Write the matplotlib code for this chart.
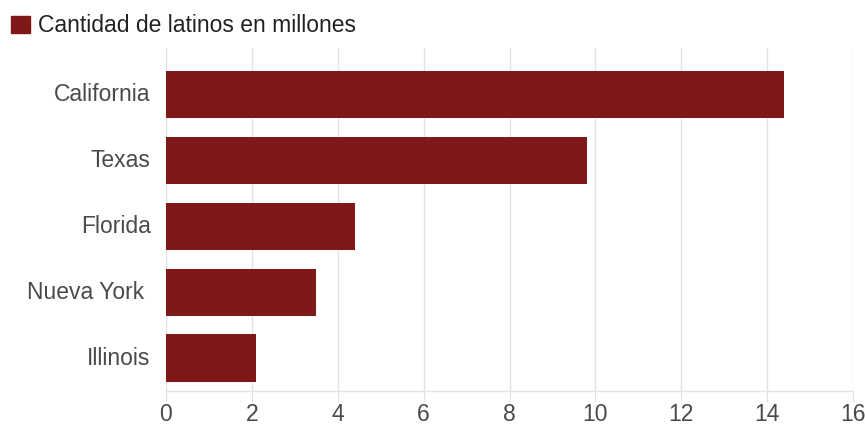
import matplotlib.pyplot as plt
from matplotlib.patches import Patch

plt.rcParams['font.family'] = ['Liberation Sans', 'DejaVu Sans']

estados = ['California', 'Texas', 'Florida', 'Nueva York ', 'Illinois']
latinos = [14.4, 9.8, 4.4, 3.5, 2.1]
xticks = [0, 2, 4, 6, 8, 10, 12, 14, 16]

bar_color = '#7f1816'
grid_color = '#e3e3e3'
text_color = '#4a4a4a'

fig = plt.figure(figsize=(8.65, 4.4), dpi=100)
ax = fig.add_axes([166 / 865, 1 - 391 / 440, (853 - 166) / 865, (391 - 48) / 440])

ypos = list(range(len(estados)))
ax.barh(ypos, latinos, height=0.72, color=bar_color, zorder=3)

ax.set_xlim(0, 16)
ax.set_ylim(4.5, -0.71)
ax.set_xticks(xticks)
ax.set_xticklabels([str(t) for t in xticks])
ax.set_yticks(ypos)
ax.set_yticklabels(estados, va='center')

ax.grid(axis='x', color=grid_color, linewidth=1, zorder=0)
for s in ['top', 'right', 'left']:
    ax.spines[s].set_visible(False)
ax.spines['bottom'].set_color(grid_color)
ax.spines['bottom'].set_linewidth(1)

ax.tick_params(axis='x', length=8, color=grid_color, labelsize=16.5,
               labelcolor=text_color, pad=0.5)
ax.tick_params(axis='y', length=0, labelsize=16.5, labelcolor=text_color, pad=11)

fig.legend(handles=[Patch(color=bar_color)], labels=['Cantidad de latinos en millones'],
           loc='center left', bbox_to_anchor=(0.0, 1 - 26 / 440), frameon=False,
           fontsize=16.5, handlelength=0.82, handleheight=0.82, handletextpad=0.38,
           labelcolor='#222222', borderaxespad=0.08)

fig.savefig('out.png', dpi=100)
